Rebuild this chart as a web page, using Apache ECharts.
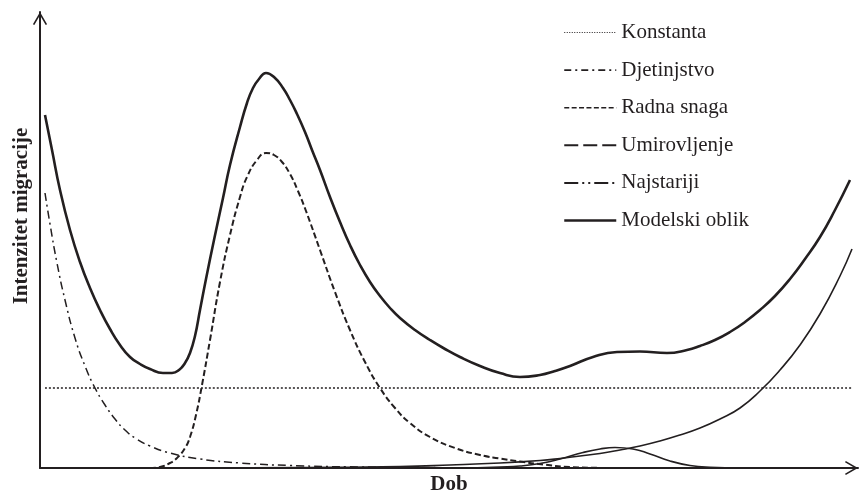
<!DOCTYPE html>
<html>
<head>
<meta charset="utf-8">
<script src="https://cdn.jsdelivr.net/npm/echarts@6/dist/echarts.min.js"></script>
<style>
  html, body { margin: 0; padding: 0; background: #fff; }
  #chart { width: 859px; height: 492px; }
</style>
</head>
<body>
<div id="chart"></div>
<script>
// dob (x) i intenzitet (y), očitano sa slike
const konstanta = [[0.5, 8.0], [81.2, 8.0]]

const djetinjstvo = [
  [0.5, 27.5], [1.0, 24.4], [1.7, 20.5], [2.5, 16.8], [3.5, 13.0], [4.5, 10.2],
  [5.5, 8.0], [6.5, 6.3], [7.5, 4.9], [8.5, 3.8], [9.5, 3.0], [11.0, 2.2],
  [13.0, 1.5], [16.0, 0.9], [20.0, 0.5], [25.0, 0.25], [32.0, 0.1], [41.0, 0.03],
  [50.0, 0]
]

const radnaSnaga = [
  [11.0, 0], [12.0, 0.1], [13.0, 0.5], [13.7, 1.0], [14.5, 2.0], [15.0, 3.1],
  [15.6, 5.3], [16.2, 8.3], [17.0, 12.8], [18.0, 18.6], [19.0, 23.3], [20.0, 27.1],
  [20.7, 29.1], [21.7, 30.8], [22.6, 31.5], [23.4, 31.3], [24.2, 30.6], [25.0, 29.4],
  [25.8, 27.7], [26.6, 25.7], [28.0, 21.8], [29.5, 17.6], [31.0, 13.8], [32.5, 10.6],
  [34.0, 8.0], [35.5, 6.0], [37.0, 4.5], [39.0, 3.1], [41.5, 2.0], [44.0, 1.3],
  [46.0, 0.95], [48.0, 0.65], [50.3, 0.35], [53.0, 0.1], [57.0, 0]
]

const umirovljenje = [
  [43.0, 0], [46.0, 0.1], [48.0, 0.2], [50.0, 0.45], [52.0, 0.9], [54.3, 1.55],
  [56.0, 1.9], [57.5, 2.05], [59.3, 1.9], [61.0, 1.4], [63.0, 0.7], [65.0, 0.25],
  [67.0, 0.07], [70.0, 0]
]

const najstariji = [
  [16.0, 0], [26.0, 0.05], [36.0, 0.15], [41.0, 0.3], [46.0, 0.5], [50.0, 0.75],
  [52.0, 0.95], [54.0, 1.2], [56.0, 1.45], [58.0, 1.8], [60.0, 2.2], [62.0, 2.7],
  [64.0, 3.3], [66.0, 4.0], [68.0, 4.9], [70.0, 6.0], [72.0, 7.7], [74.0, 9.8],
  [76.0, 12.3], [78.0, 15.4], [80.0, 19.2], [81.2, 21.9]
]

const modelskiOblik = [
  [0.5, 35.3], [1.2, 31.8], [2.0, 27.8], [3.0, 23.8], [4.0, 20.6], [5.0, 18.0],
  [6.0, 15.8], [7.0, 13.9], [8.0, 12.3], [9.0, 11.1], [10.0, 10.4], [11.0, 9.9],
  [12.3, 9.5], [13.2, 9.5], [13.9, 9.8], [14.5, 10.5], [15.0, 11.5], [15.5, 13.2],
  [16.0, 15.8], [16.6, 18.9], [17.4, 22.8], [18.3, 27.0], [19.0, 30.3], [20.0, 34.1],
  [20.7, 36.5], [21.3, 38.0], [21.9, 38.9], [22.6, 39.5], [23.5, 39.0], [24.3, 38.0],
  [25.0, 36.8], [25.7, 35.4], [26.5, 33.6], [27.2, 31.8], [28.0, 29.8], [29.0, 27.1],
  [30.0, 24.6], [31.0, 22.3], [32.0, 20.3], [33.0, 18.6], [34.0, 17.2], [35.0, 16.0],
  [36.0, 15.0], [37.5, 13.8], [39.0, 12.8], [40.5, 11.9], [42.0, 11.1], [44.0, 10.2],
  [46.0, 9.5], [48.0, 9.1], [50.0, 9.3], [51.5, 9.7], [53.0, 10.2], [55.3, 11.1],
  [57.7, 11.6], [60.0, 11.65], [62.7, 11.5], [64.7, 11.8], [66.0, 12.2], [67.5, 12.8],
  [69.0, 13.6], [70.5, 14.6], [72.0, 15.8], [73.5, 17.2], [75.0, 18.9], [76.5, 20.9],
  [78.0, 23.1], [79.5, 25.8], [81.0, 28.8]
]

const nazivi = ['Konstanta', 'Djetinjstvo', 'Radna snaga', 'Umirovljenje', 'Najstariji', 'Modelski oblik']

const boja = '#231f20'
const font = '"Liberation Serif", "DejaVu Serif", serif'
// otvorena strelica na kraju osi
const strelica = 'path://M0,12 L7,0 L14,12 L12.6,12.8 L7,3.2 L1.4,12.8 Z'

function linija(name, data, width, type) {
  return {
    name,
    type: 'line',
    data,
    smooth: 0.5,
    symbol: 'none',
    silent: true,
    lineStyle: { color: boja, width, type }
  }
}

const chart = echarts.init(document.getElementById('chart'))

chart.setOption({
  animation: false,
  backgroundColor: '#fff',
  color: [boja],
  grid: { left: 40, right: 1, top: 12, bottom: 24, outerBoundsMode: 'none' },
  legend: {
    orient: 'vertical',
    left: 558,
    top: 17,
    itemWidth: 52,
    itemHeight: 14,
    itemGap: 16.6,
    selectedMode: false,
    itemStyle: { opacity: 0 },
    textStyle: { fontFamily: font, fontSize: 21, color: boja, lineHeight: 20 },
    data: [
      { name: nazivi[0], lineStyle: { color: boja, type: [1, 1.5], width: 1 } },
      { name: nazivi[1], lineStyle: { color: boja, type: [7, 4, 2, 4], width: 1.6 } },
      { name: nazivi[2], lineStyle: { color: boja, type: [5, 2.4], width: 1.6 } },
      { name: nazivi[3], lineStyle: { color: boja, type: [14, 5], width: 2 } },
      { name: nazivi[4], lineStyle: { color: boja, type: [14, 4, 2, 4, 2, 4], width: 2 } },
      { name: nazivi[5], lineStyle: { color: boja, type: 'solid', width: 2.5 } }
    ]
  },
  xAxis: {
    type: 'value',
    min: 0,
    max: 81.8,
    name: 'Dob',
    nameLocation: 'middle',
    nameGap: 6,
    nameTextStyle: { fontFamily: font, fontSize: 21, fontWeight: 'bold', color: boja },
    axisLine: {
      lineStyle: { color: boja, width: 2 },
      symbol: ['none', strelica],
      symbolSize: [15, 13],
      symbolOffset: [0, -6.5]
    },
    axisTick: { show: false },
    axisLabel: { show: false },
    splitLine: { show: false }
  },
  yAxis: {
    type: 'value',
    min: 0,
    max: 45.6,
    name: 'Intenzitet migracije',
    nameLocation: 'middle',
    nameGap: 8,
    nameTextStyle: {
      fontFamily: font, fontSize: 21, fontWeight: 'bold', color: boja,
      padding: [0, 0, 0, 48]
    },
    axisLine: {
      show: true,
      onZero: false,
      lineStyle: { color: boja, width: 2 },
      symbol: ['none', strelica],
      symbolSize: [15, 13],
      symbolOffset: [0, -6.5]
    },
    axisTick: { show: false },
    axisLabel: { show: false },
    splitLine: { show: false }
  },
  series: [
    linija(nazivi[0], konstanta, 1.5, [2, 2]),
    linija(nazivi[1], djetinjstvo, 1.5, [8, 4, 2, 4]),
    linija(nazivi[2], radnaSnaga, 2, [6, 3]),
    linija(nazivi[3], umirovljenje, 1.6, 'solid'),
    linija(nazivi[4], najstariji, 1.6, 'solid'),
    linija(nazivi[5], modelskiOblik, 2.6, 'solid')
  ]
})

window.addEventListener('resize', chart.resize)
</script>
</body>
</html>
